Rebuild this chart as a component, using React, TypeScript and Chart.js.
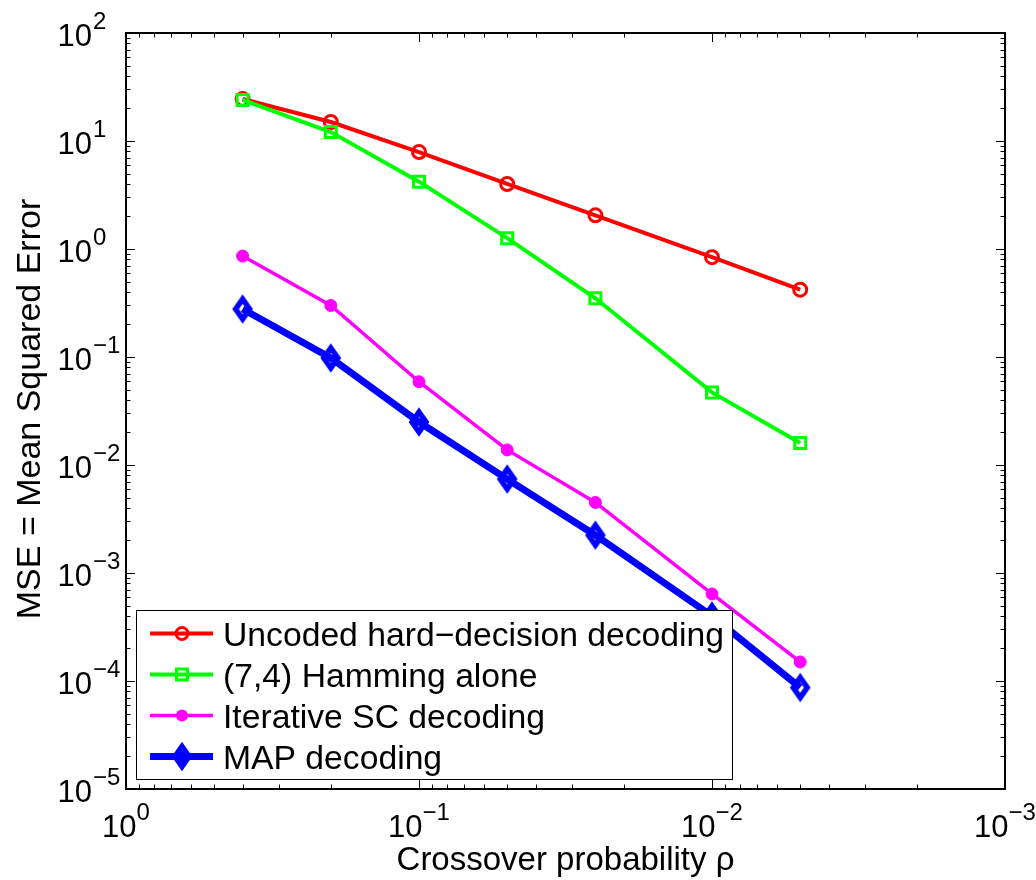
import React, { useEffect, useRef } from "react";
import { Chart, registerables } from "chart.js";

Chart.register(...registerables);

// Crossover probability (x) and MSE per decoder (y)
const crossover = [0.4, 0.2, 0.1, 0.05, 0.025, 0.01, 0.005];
const uncodedMse = [24.5, 15, 7.9, 4.0, 2.05, 0.84, 0.42];
const hammingMse = [24, 12.1, 4.2, 1.26, 0.35, 0.047, 0.016];
const iterativeScMse = [0.86, 0.3, 0.059, 0.0138, 0.0045, 0.00064, 0.00015];
const mapMse = [0.278, 0.098, 0.025, 0.0074, 0.00224, 0.0004, 0.000087];

const seriesLabels = [
  "Uncoded hard\u2212decision decoding",
  "(7,4) Hamming alone",
  "Iterative SC decoding",
  "MAP decoding",
];

// Decade exponents used for the axis tick labels
const xDecades = [0, -1, -2, -3];
const yDecades = [2, 1, 0, -1, -2, -3, -4, -5];

const xTitle = "Crossover probability \u03c1";
const yTitle = "MSE = Mean Squared Error";

const FONT = '"Liberation Sans", Arial, Helvetica, sans-serif';

type MarkerKind = "circle" | "square" | "dot" | "diamond";

const styles: { color: string; width: number; marker: MarkerKind }[] = [
  { color: "#ff0000", width: 4, marker: "circle" },
  { color: "#00ff00", width: 4, marker: "square" },
  { color: "#ff00ff", width: 3.5, marker: "dot" },
  { color: "#0000ff", width: 7, marker: "diamond" },
];

function diamondPath(ctx: CanvasRenderingContext2D, x: number, y: number, hw: number, hh: number) {
  ctx.beginPath();
  ctx.moveTo(x, y - hh);
  ctx.lineTo(x + hw, y);
  ctx.lineTo(x, y + hh);
  ctx.lineTo(x - hw, y);
  ctx.closePath();
}

function makeDiamondImage(color: string): HTMLCanvasElement {
  const c = document.createElement("canvas");
  c.width = 28;
  c.height = 34;
  const g = c.getContext("2d")!;
  g.strokeStyle = color;
  g.lineWidth = 5.5;
  g.lineJoin = "miter";
  diamondPath(g, 14, 17, 7, 10);
  g.stroke();
  return c;
}

function drawMarker(ctx: CanvasRenderingContext2D, kind: MarkerKind, color: string, x: number, y: number) {
  ctx.save();
  ctx.strokeStyle = color;
  ctx.fillStyle = color;
  if (kind === "circle") {
    ctx.lineWidth = 3;
    ctx.beginPath();
    ctx.arc(x, y, 6, 0, Math.PI * 2);
    ctx.stroke();
  } else if (kind === "square") {
    ctx.lineWidth = 3;
    ctx.strokeRect(x - 5.5, y - 5.5, 11, 11);
  } else if (kind === "dot") {
    ctx.beginPath();
    ctx.arc(x, y, 6, 0, Math.PI * 2);
    ctx.fill();
  } else {
    ctx.lineWidth = 5.5;
    diamondPath(ctx, x, y, 7, 10);
    ctx.fill();
    ctx.stroke();
  }
  ctx.restore();
}

const axesPlugin = {
  id: "boxedLogAxes",
  afterDraw(chart: any) {
    const { ctx, chartArea: a, scales } = chart;
    const xs = scales.x;
    const ys = scales.y;
    ctx.save();

    // minor and major ticks on all four sides, pointing inward
    ctx.strokeStyle = "#000";
    ctx.lineWidth = 1;
    const majorLen = 9;
    const minorLen = 4.5;
    ctx.beginPath();
    for (let e = -5; e <= 2; e++) {
      for (let m = 1; m <= 9; m++) {
        const v = Number((m * Math.pow(10, e)).toPrecision(6));
        const len = m === 1 ? majorLen : minorLen;
        if (v >= xs.min - 1e-12 && v <= xs.max + 1e-12) {
          const px = Math.round(xs.getPixelForValue(v)) + 0.5;
          ctx.moveTo(px, a.bottom);
          ctx.lineTo(px, a.bottom - len);
          ctx.moveTo(px, a.top);
          ctx.lineTo(px, a.top + len);
        }
        if (v >= ys.min * 0.999999 && v <= ys.max * 1.000001) {
          const py = Math.round(ys.getPixelForValue(v)) + 0.5;
          ctx.moveTo(a.left, py);
          ctx.lineTo(a.left + len, py);
          ctx.moveTo(a.right, py);
          ctx.lineTo(a.right - len, py);
        }
      }
    }
    ctx.stroke();

    // axes box
    ctx.lineWidth = 2;
    ctx.strokeRect(a.left, a.top, a.right - a.left, a.bottom - a.top);

    // tick labels 10^n
    const baseFont = `31px ${FONT}`;
    const expFont = `24px ${FONT}`;
    ctx.fillStyle = "#000";
    ctx.textBaseline = "alphabetic";
    yDecades.forEach((d) => {
      const py = ys.getPixelForValue(Math.pow(10, d));
      ctx.font = baseFont;
      ctx.textAlign = "right";
      ctx.fillText("10", a.left - 34, py + 13);
      ctx.font = expFont;
      ctx.textAlign = "left";
      ctx.fillText(String(d).replace("-", "\u2212"), a.left - 33, py - 4);
    });
    xDecades.forEach((d) => {
      const px = xs.getPixelForValue(Math.pow(10, d));
      const ex = String(d).replace("-", "\u2212");
      ctx.font = baseFont;
      const wb = ctx.measureText("10").width;
      ctx.font = expFont;
      const we = ctx.measureText(ex).width;
      const start = px - (wb + we) / 2;
      ctx.textAlign = "left";
      ctx.font = baseFont;
      ctx.fillText("10", start, a.bottom + 48);
      ctx.font = expFont;
      ctx.fillText(ex, start + wb, a.bottom + 31);
    });

    // axis titles
    ctx.font = `33px ${FONT}`;
    ctx.textAlign = "center";
    ctx.fillText(xTitle, (a.left + a.right) / 2, a.bottom + 81);
    ctx.save();
    ctx.font = `34px ${FONT}`;
    ctx.translate(a.left - 86, (a.top + a.bottom) / 2 - 2);
    ctx.rotate(-Math.PI / 2);
    ctx.fillText(yTitle, 0, 0);
    ctx.restore();

    // legend box
    const lx = 136.5;
    const ly = 610.5;
    const lw = 596;
    const lh = 169;
    ctx.fillStyle = "#fff";
    ctx.fillRect(lx, ly, lw, lh);
    ctx.strokeStyle = "#000";
    ctx.lineWidth = 1;
    ctx.strokeRect(lx, ly, lw, lh);
    ctx.font = `33.7px ${FONT}`;
    ctx.textAlign = "left";
    ctx.textBaseline = "alphabetic";
    seriesLabels.forEach((label, i) => {
      const ry = 633.5 + i * 41;
      const st = styles[i];
      ctx.strokeStyle = st.color;
      ctx.lineWidth = st.width;
      ctx.beginPath();
      ctx.moveTo(150, ry);
      ctx.lineTo(213, ry);
      ctx.stroke();
      drawMarker(ctx, st.marker, st.color, 182, ry);
      ctx.fillStyle = "#000";
      ctx.fillText(label, 223, ry + 12);
    });

    ctx.restore();
  },
};

export default function App() {
  const ref = useRef<HTMLCanvasElement>(null);

  useEffect(() => {
    const canvas = ref.current;
    if (!canvas) return;
    const toPoints = (ys: number[]) => crossover.map((x, i) => ({ x, y: ys[i] }));
    const diamond = makeDiamondImage("#0000ff");
    const chart = new Chart(canvas, {
      type: "line",
      data: {
        datasets: [
          {
            label: seriesLabels[0],
            data: toPoints(uncodedMse),
            borderColor: styles[0].color,
            borderWidth: styles[0].width,
            pointStyle: "circle",
            pointRadius: 6.5,
            pointBorderWidth: 3,
            pointBorderColor: styles[0].color,
            pointBackgroundColor: "rgba(0,0,0,0)",
            order: 4,
          },
          {
            label: seriesLabels[1],
            data: toPoints(hammingMse),
            borderColor: styles[1].color,
            borderWidth: styles[1].width,
            pointStyle: "rect",
            pointRadius: 7.8,
            pointBorderWidth: 3,
            pointBorderColor: styles[1].color,
            pointBackgroundColor: "rgba(0,0,0,0)",
            order: 3,
          },
          {
            label: seriesLabels[2],
            data: toPoints(iterativeScMse),
            borderColor: styles[2].color,
            borderWidth: styles[2].width,
            pointStyle: "circle",
            pointRadius: 6,
            pointBorderWidth: 1,
            pointBorderColor: styles[2].color,
            pointBackgroundColor: styles[2].color,
            order: 2,
          },
          {
            label: seriesLabels[3],
            data: toPoints(mapMse),
            borderColor: styles[3].color,
            borderWidth: styles[3].width,
            pointStyle: diamond,
            pointRadius: 10,
            order: 1,
          },
        ],
      },
      options: {
        responsive: false,
        animation: false,
        devicePixelRatio: 1,
        layout: { padding: { left: 126, top: 33, right: 31, bottom: 91 } },
        elements: { line: { tension: 0 } },
        plugins: { legend: { display: false }, tooltip: { enabled: false } },
        events: [],
        scales: {
          x: { type: "logarithmic", reverse: true, min: 0.001, max: 1, display: false },
          y: { type: "logarithmic", min: 1e-5, max: 100, display: false },
        },
      },
      plugins: [axesPlugin],
    });
    return () => chart.destroy();
  }, []);

  return (
    <div style={{ position: "absolute", left: 0, top: 0, width: 1036, height: 880, background: "#fff" }}>
      <canvas ref={ref} width={1036} height={880} style={{ display: "block" }} />
    </div>
  );
}
